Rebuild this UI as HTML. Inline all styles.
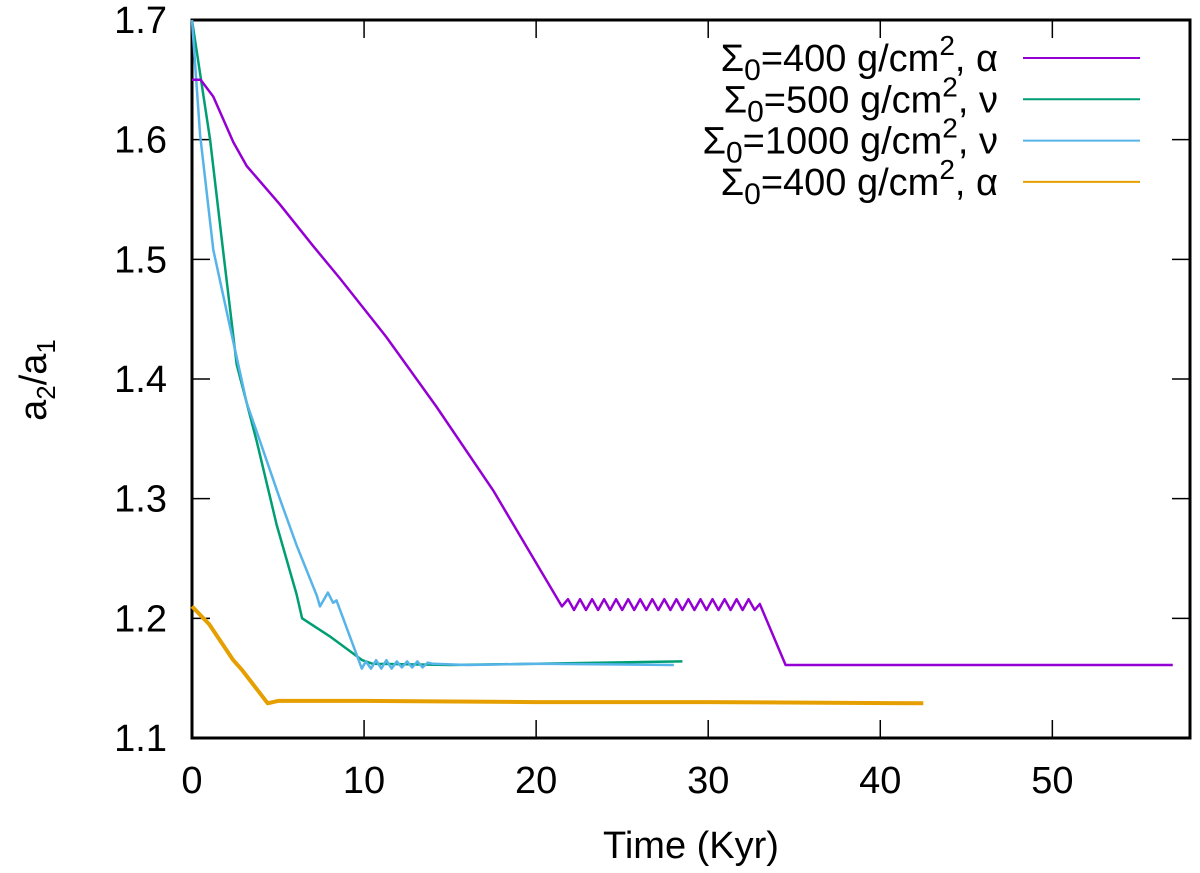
<!DOCTYPE html>
<html><head><meta charset="utf-8"><style>
body{margin:0;background:#fff}
svg{display:block;font-family:"Liberation Sans",sans-serif}
</style></head><body>
<svg id="chart" width="1200" height="873" viewBox="0 0 1200 873" xmlns="http://www.w3.org/2000/svg">
<g id="grid"></g>
<g id="series"></g>
<g id="legend"></g>
<text x="691" y="858" font-size="38" text-anchor="middle">Time (Kyr)</text>
<text transform="translate(46,380) rotate(-90)" font-size="38" text-anchor="middle">a<tspan font-size="26" dy="9">2</tspan><tspan dy="-9">/a</tspan><tspan font-size="26" dy="9">1</tspan></text>
</svg>
<script>
const xTicks=[0,10,20,30,40,50];
const yTicks=[1.1,1.2,1.3,1.4,1.5,1.6,1.7];
const seriesNames=["Σ0=400 g/cm2, α (purple)","Σ0=500 g/cm2, ν","Σ0=1000 g/cm2, ν","Σ0=400 g/cm2, α (orange)"];
const purpleT=[0,0.5,1.24,2.4,3.18,5.1,7.05,8.6,11.3,14.2,17.5,21.5,21.85,22.2,22.55,22.9,23.25,23.6,23.95,24.3,24.65,25,25.35,25.7,26.05,26.4,26.75,27.1,27.45,27.8,28.15,28.5,28.85,29.2,29.55,29.9,30.25,30.6,30.95,31.3,31.65,32,32.35,32.7,33,34.5,57];
const purpleV=[1.65,1.65,1.636,1.598,1.578,1.546,1.511,1.484,1.435,1.377,1.307,1.210,1.216,1.207,1.216,1.207,1.216,1.207,1.216,1.207,1.216,1.207,1.216,1.207,1.216,1.207,1.216,1.207,1.216,1.207,1.216,1.207,1.216,1.207,1.216,1.207,1.216,1.207,1.216,1.207,1.216,1.207,1.216,1.207,1.212,1.161,1.161];
const greenT=[0,1.05,1.8,2.6,3.76,4.92,6.08,6.4,8,9.9,10.5,15,20,28.5];
const greenV=[1.7,1.6,1.508,1.412,1.348,1.278,1.22,1.2,1.185,1.165,1.162,1.161,1.162,1.164];
const blueT=[0,0.47,1.24,2.2,3.18,3.95,5.1,6.08,7.25,7.44,7.9,8.2,8.4,9.87,10.1,10.4,10.7,11,11.3,11.6,11.9,12.2,12.5,12.8,13.1,13.4,13.7,14,16,20,28];
const blueV=[1.7,1.604,1.508,1.444,1.38,1.348,1.30,1.261,1.219,1.21,1.2215,1.213,1.215,1.158,1.164,1.158,1.165,1.158,1.165,1.158,1.164,1.159,1.164,1.159,1.164,1.159,1.163,1.162,1.161,1.162,1.161];
const orangeT=[0,1,2.4,2.9,4.4,5,6,10,20,30,42.5];
const orangeV=[1.21,1.195,1.165,1.157,1.129,1.131,1.131,1.131,1.130,1.130,1.129];
const X0=192,X1=1190,Y0=738,Y1=20;
const xs=v=>X0+(v-0)/58*(X1-X0);
const ys=v=>Y0-(v-1.1)/0.6*(Y0-Y1);
const NS="http://www.w3.org/2000/svg";
function mk(t,a,p){const e=document.createElementNS(NS,t);for(const k in a)e.setAttribute(k,a[k]);p.appendChild(e);return e;}
const g=document.getElementById('grid');
const frame=mk('rect',{x:X0,y:Y1,width:X1-X0,height:Y0-Y1,fill:'none',stroke:'#000','stroke-width':3},g);


xTicks.forEach(t=>{const x=xs(t);
 const a=mk('line',{x1:x,x2:x,y1:Y0,y2:Y0-18,stroke:'#000','stroke-width':1.5},g);
 
 
 const b=mk('line',{x1:x,x2:x,y1:Y1,y2:Y1+18,stroke:'#000','stroke-width':1.5},g);
 
 
 const l=mk('text',{x:x,y:793,'font-size':38,'text-anchor':'middle'},g);l.textContent=t;
 
 });
yTicks.forEach(t=>{const y=ys(t);
 const a=mk('line',{x1:X0,x2:X0+18,y1:y,y2:y,stroke:'#000','stroke-width':1.5},g);
 
 
 const b=mk('line',{x1:X1,x2:X1-18,y1:y,y2:y,stroke:'#000','stroke-width':1.5},g);
 
 
 const l=mk('text',{x:167,y:y+13,'font-size':38,'text-anchor':'end'},g);l.textContent=t.toFixed(1);
 
 });
const s=document.getElementById('series');
function line(T,V,color,w,name){const d=T.map((t,i)=>(i?'L':'M')+xs(t).toFixed(1)+','+ys(V[i]).toFixed(1)).join('');
 const p=mk('path',{d:d,fill:'none',stroke:color,'stroke-width':w,'stroke-linejoin':'round'},s);
 
 }
line(orangeT,orangeV,'#e69f00',4,'series-orange');
line(greenT,greenV,'#009e73',2.5,'series-green');
line(blueT,blueV,'#56b4e9',2.5,'series-blue');
line(purpleT,purpleV,'#9400d3',2.5,'series-purple');
const lg=document.getElementById('legend');
const cols=['#9400d3','#009e73','#56b4e9','#e69f00'];
const labs=[['400','α'],['500','ν'],['1000','ν'],['400','α']];
labs.forEach((L,i)=>{const y=58+i*41.3;
 const ln=mk('line',{x1:1023,x2:1140,y1:y,y2:y,stroke:cols[i],'stroke-width':2},lg);
 
 
 const t=mk('text',{x:998,y:y+13,'font-size':38,'text-anchor':'end'},lg);
 
 
 t.innerHTML='Σ<tspan font-size="30" dy="9">0</tspan><tspan dy="-9">='+L[0]+' g/cm</tspan><tspan font-size="28" dy="-16">2</tspan><tspan dy="16">, '+L[1]+'</tspan>';});
</script>
</body></html>
